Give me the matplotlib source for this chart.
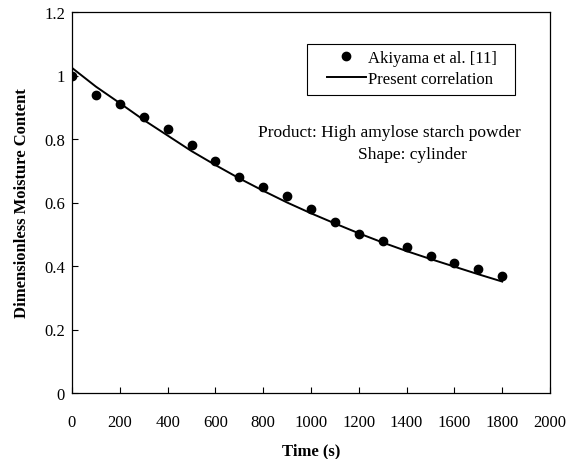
import matplotlib
matplotlib.use("Agg")
import matplotlib.pyplot as plt
from matplotlib.patches import Rectangle

# measured points (Akiyama et al.)
time_s = [0, 100, 200, 300, 400, 500, 600, 700, 800, 900,
          1000, 1100, 1200, 1300, 1400, 1500, 1600, 1700, 1800]
moisture = [1.00, 0.94, 0.91, 0.87, 0.83, 0.78, 0.73, 0.68, 0.65, 0.62,
            0.58, 0.54, 0.50, 0.48, 0.46, 0.43, 0.41, 0.39, 0.37]

# correlation curve
curve = [1.024, 0.965, 0.913, 0.860, 0.811, 0.762, 0.718, 0.676, 0.637, 0.600,
         0.566, 0.534, 0.503, 0.474, 0.447, 0.422, 0.398, 0.374, 0.351]

x_ticks = [0, 200, 400, 600, 800, 1000, 1200, 1400, 1600, 1800, 2000]
y_ticks = [0, 0.2, 0.4, 0.6, 0.8, 1.0, 1.2]
y_tick_labels = ["0", "0.2", "0.4", "0.6", "0.8", "1", "1.2"]

FS = 12

plt.rcParams["font.family"] = ["Liberation Serif", "DejaVu Serif"]

fig = plt.figure(figsize=(5.8, 4.6), dpi=100)
ax = fig.add_axes([72 / 580, 66 / 460, 478 / 580, 381 / 460])

ax.plot(time_s, moisture, "o", color="black", markersize=6,
        label="Akiyama et al. [11]")
ax.plot(time_s, curve, "-", color="black", linewidth=1.4,
        label="Present correlation")

ax.set_xlim(0, 2000)
ax.set_ylim(0, 1.2)
ax.set_xticks(x_ticks)
ax.set_yticks(y_ticks)
ax.set_yticklabels(y_tick_labels)
ax.tick_params(axis="both", direction="in", length=4, width=0.8,
               labelsize=FS, top=False, right=False)
ax.tick_params(axis="x", pad=15)
ax.tick_params(axis="y", pad=5)
for s in ax.spines.values():
    s.set_linewidth(0.9)

ax.set_xlabel("Time (s)", fontsize=FS, fontweight="bold", labelpad=9)
ax.set_ylabel("Dimensionless Moisture Content", fontsize=FS,
              fontweight="bold", labelpad=10)

# legend box drawn separately so it can be wider than its content
ax.add_patch(Rectangle((0.492, 0.782), 0.435, 0.134, transform=ax.transAxes,
                       fill=False, edgecolor="black", linewidth=0.8))
leg = ax.legend(loc="center left", bbox_to_anchor=(0.533, 0.853),
                fontsize=FS, frameon=False, handlelength=2.35,
                borderpad=0, labelspacing=0.3, handletextpad=0.1,
                borderaxespad=0)

ax.text(0.663, 0.685, "Product: High amylose starch powder",
        transform=ax.transAxes, ha="center", va="center", fontsize=12.5)
ax.text(0.713, 0.627, "Shape: cylinder",
        transform=ax.transAxes, ha="center", va="center", fontsize=12.5)

fig.savefig("out.png", dpi=100)
